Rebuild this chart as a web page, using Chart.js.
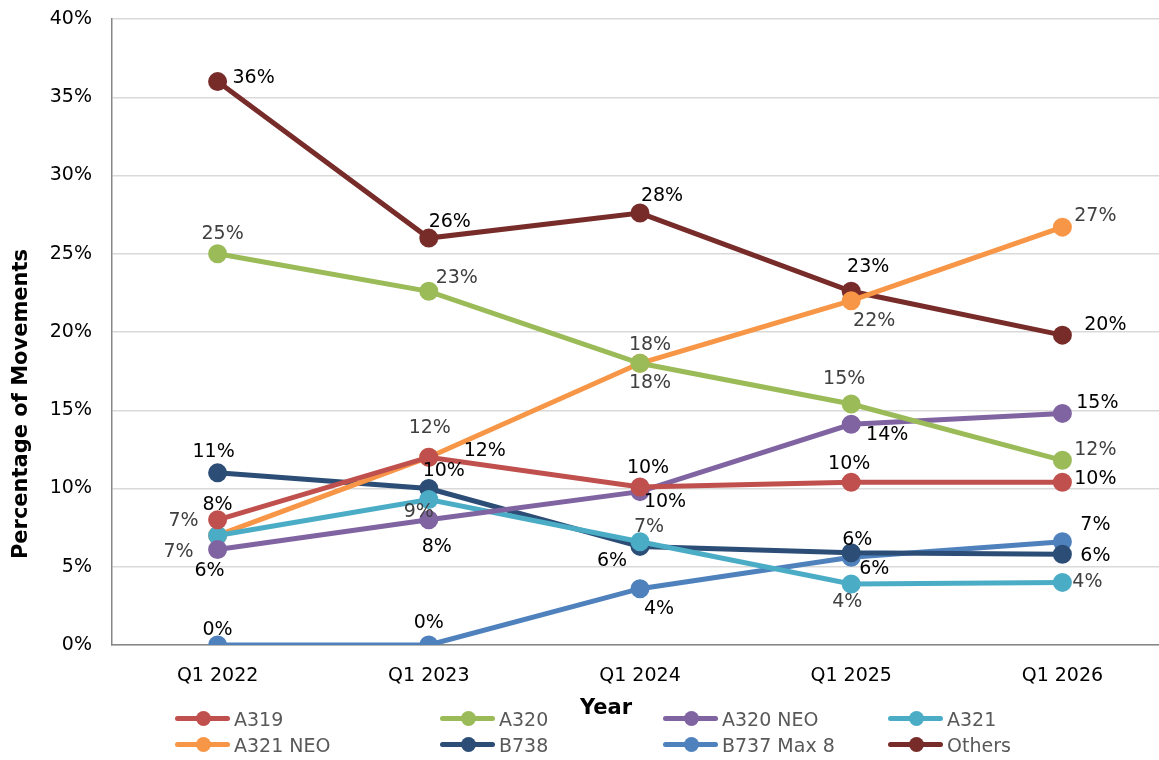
<!DOCTYPE html>
<html>
<head>
<meta charset="utf-8">
<script src="https://cdn.jsdelivr.net/npm/chart.js@4.4.0/dist/chart.umd.min.js"></script>
<style>
  html, body { margin: 0; padding: 0; background: #fff; overflow: hidden; }
  #wrap { position: relative; width: 1180px; height: 760px; }
  #legend { position: absolute; left: 0; top: 705px; width: 1159px; height: 55px;
            font-family: "DejaVu Sans", sans-serif; font-size: 19px; color: #595959; }
  .item { position: absolute; height: 27px; display: flex; align-items: center; }
  .mark { position: relative; width: 55px; height: 5px; margin-right: 4px; border-radius: 3px; }
  .mark span { position: absolute; left: 21px; top: -5px; width: 15px; height: 15px; border-radius: 50%; }
</style>
</head>
<body>
<div id="wrap">
  <canvas id="chart" width="1180" height="760"></canvas>
  <div id="legend"></div>
</div>
<script>
// categories and series (percent of movements)
const years = ['Q1 2022', 'Q1 2023', 'Q1 2024', 'Q1 2025', 'Q1 2026'];
const a319 = [8.0, 12.0, 10.1, 10.4, 10.4];
const a320 = [25.0, 22.6, 18.0, 15.4, 11.8];
const a320neo = [6.1, 8.0, 9.8, 14.1, 14.8];
const a321 = [7.0, 9.3, 6.6, 3.9, 4.0];
const a321neo = [7.0, 12.0, 18.0, 22.0, 26.7];
const b738 = [11.0, 10.0, 6.3, 5.9, 5.8];
const b737max8 = [0.0, 0.0, 3.6, 5.6, 6.6];
const others = [36.0, 26.0, 27.6, 22.6, 19.8];
const yTicks = [0, 5, 10, 15, 20, 25, 30, 35, 40];

// label placement for each point, [dx, dy] from the marker
const labelOffsets = {
  'A319':        [[0, -15], [56, -6], [8, -19], [-2, -18], [33, -3]],
  'A320':        [[5, -20], [28, -13], [10, 20], [-7, -25], [33, -10]],
  'A320 NEO':    [[-8, 22], [8, 27], [25, 10], [36, 11], [35, -10]],
  'A321':        [[-39, 17], [-10, 13], [9, -15], [-4, 18], [25, 0]],
  'A321 NEO':    [[-34, -14], [1, -29], [10, -18], [23, 20], [33, -11]],
  'B738':        [[-4, -21], [15, -17], [-28, 15], [6, -13], [33, 2]],
  'B737 Max 8':  [[0, -15], [0, -22], [19, 20], [23, 12], [33, -17]],
  'Others':      [[36, -4], [21, -16], [22, -17], [17, -24], [43, -10]]
};

const series = [
  { label: 'A319', data: a319, color: '#c0504d', text: '#000000' },
  { label: 'A320', data: a320, color: '#9bbb59', text: '#404040' },
  { label: 'A320 NEO', data: a320neo, color: '#8064a2', text: '#000000' },
  { label: 'A321', data: a321, color: '#4bacc6', text: '#404040' },
  { label: 'A321 NEO', data: a321neo, color: '#f79646', text: '#404040' },
  { label: 'B738', data: b738, color: '#2c4d75', text: '#000000' },
  { label: 'B737 Max 8', data: b737max8, color: '#4f81bd', text: '#000000' },
  { label: 'Others', data: others, color: '#772c2a', text: '#000000' }
];

const FONT = '"DejaVu Sans", sans-serif';

// draws the value labels next to each point
const pointLabels = {
  id: 'pointLabels',
  afterDatasetsDraw(chart) {
    const ctx = chart.ctx;
    ctx.save();
    ctx.font = '19px ' + FONT;
    ctx.textAlign = 'center';
    ctx.textBaseline = 'middle';
    chart.data.datasets.forEach((ds, i) => {
      const meta = chart.getDatasetMeta(i);
      const offs = labelOffsets[ds.label];
      meta.data.forEach((pt, j) => {
        ctx.fillStyle = series[i].text;
        ctx.fillText(Math.round(ds.data[j]) + '%', pt.x + offs[j][0], pt.y + offs[j][1]);
      });
    });
    ctx.restore();
  }
};

// axis titles sit off-centre in the original, so they are drawn here
const axisTitles = {
  id: 'axisTitles',
  afterDraw(chart) {
    const ctx = chart.ctx;
    ctx.save();
    ctx.font = 'bold 21px ' + FONT;
    ctx.fillStyle = '#000';
    ctx.textAlign = 'center';
    ctx.textBaseline = 'middle';
    ctx.fillText('Year', 606, 709);
    ctx.translate(22, 404);
    ctx.rotate(-Math.PI / 2);
    ctx.fillText('Percentage of Movements', 0, 0);
    ctx.restore();
  }
};

const chart = new Chart(document.getElementById('chart'), {
  type: 'line',
  data: {
    labels: years,
    datasets: series.map(s => ({
      label: s.label,
      data: s.data,
      borderColor: s.color,
      backgroundColor: s.color,
      borderWidth: 5,
      pointRadius: 7,
      pointHoverRadius: 7,
      fill: false,
      tension: 0
    }))
  },
  options: {
    responsive: false,
    animation: false,
    layout: { padding: { top: 19, right: 0, bottom: 0, left: 0 } },
    plugins: {
      legend: { display: false },
      tooltip: { enabled: false }
    },
    scales: {
      x: {
        offset: true,
        afterFit: scale => { scale.height = 115; },
        grid: { display: false, drawTicks: false },
        border: { color: '#868686', width: 1.5 },
        ticks: { color: '#000', padding: 20, font: { family: FONT, size: 19 } }
      },
      y: {
        min: 0,
        max: 40,
        afterBuildTicks: scale => { scale.ticks = yTicks.map(v => ({ value: v })); },
        afterFit: scale => { scale.width = 112; scale.paddingTop = 0; scale.paddingBottom = 0; },
        grid: { color: '#d9d9d9', lineWidth: 1.5, drawTicks: false },
        border: { color: '#868686', width: 1.5 },
        ticks: { color: '#000', padding: 20, font: { family: FONT, size: 19 },
                 callback: v => v + '%' }
      }
    }
  },
  plugins: [pointLabels, axisTitles]
});

// legend: two rows, four columns
const legendCols = [175, 440, 663, 888];
const legendEl = document.getElementById('legend');
chart.data.datasets.forEach((ds, i) => {
  const item = document.createElement('div');
  item.className = 'item';
  item.style.left = legendCols[i % 4] + 'px';
  item.style.top = (Math.floor(i / 4) * 26) + 'px';
  item.innerHTML = '<div class="mark" style="background:' + ds.borderColor + '"><span style="background:' +
    ds.borderColor + '"></span></div>' + ds.label;
  legendEl.appendChild(item);
});
</script>
</body>
</html>
